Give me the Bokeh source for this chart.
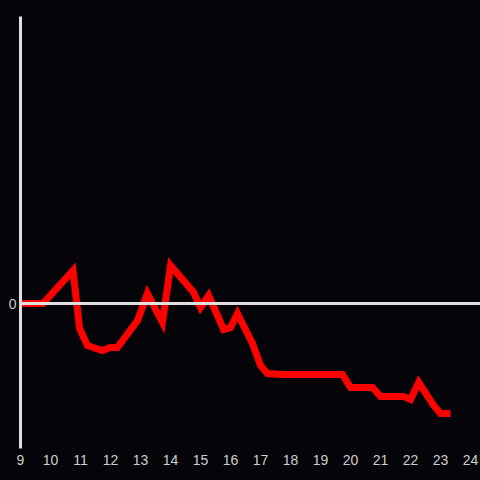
from bokeh.plotting import figure
from bokeh.models import FixedTicker, Span, Range1d
from bokeh.embed import file_html
from bokeh.resources import INLINE

hours = [9.0, 9.75, 10.75, 10.97, 11.23, 11.73, 12.0, 12.23, 12.9, 13.23, 13.73, 14.0,
         14.77, 15.0, 15.27, 15.77, 16.0, 16.23, 16.73, 17.0, 17.23, 17.77, 19.73, 20.0,
         20.73, 21.0, 21.77, 22.0, 22.27, 22.77, 23.0, 23.33]
values = [0, 0, 33, -25, -42, -47, -44, -44, -17, 10, -19, 38,
          11, -4, 8, -26, -24, -10, -40, -62, -70, -71, -71, -84,
          -84, -93, -93, -96, -79, -102, -110, -110]
x_ticks = list(range(9, 25))
y_ticks = [0]

BG = "#050408"
AX = "#e0e0e0"
LBL = "#cfcfcf"

p = figure(width=480, height=480, output_backend="svg", toolbar_location=None,
           x_range=Range1d(9, 24.33), y_range=Range1d(-145, 287),
           background_fill_color=BG, border_fill_color=BG, outline_line_color=None,
           min_border_left=20, min_border_right=0, min_border_top=16, min_border_bottom=32)
p.grid.visible = False

p.xaxis.ticker = FixedTicker(ticks=x_ticks)
p.xaxis.axis_line_color = None
p.xaxis.major_tick_line_color = None
p.xaxis.minor_tick_line_color = None
p.xaxis.major_tick_out = 0
p.xaxis.major_label_standoff = 6
p.xaxis.major_label_text_color = LBL
p.xaxis.major_label_text_font = "Liberation Sans"
p.xaxis.major_label_text_font_size = "14px"

p.yaxis.ticker = FixedTicker(ticks=y_ticks)
p.yaxis.axis_line_color = AX
p.yaxis.axis_line_width = 3
p.yaxis.major_tick_line_color = None
p.yaxis.minor_tick_line_color = None
p.yaxis.major_tick_out = 0
p.yaxis.major_label_standoff = 4
p.yaxis.major_label_text_color = LBL
p.yaxis.major_label_text_font = "Liberation Sans"
p.yaxis.major_label_text_font_size = "14px"

p.add_layout(Span(location=0, dimension="width", line_color=AX, line_width=3))

p.line(hours, values, line_color="#ff0000", line_width=7, line_join="miter")

html = file_html(p, INLINE)
html = html.replace("</head>", "<style>html, body { background: #050408; }</style></head>", 1)
open("out.html", "w").write(html)
